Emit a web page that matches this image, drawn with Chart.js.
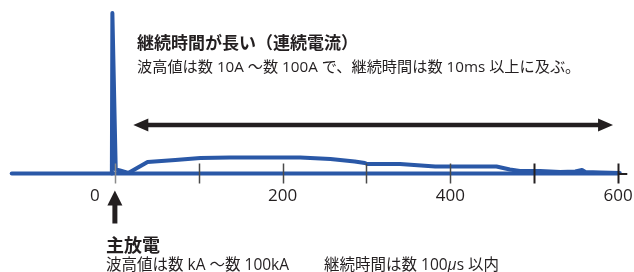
<!DOCTYPE html>
<html>
<head>
<meta charset="utf-8">
<script src="https://cdn.jsdelivr.net/npm/chart.js@4/dist/chart.umd.min.js"></script>
<style>
  html, body { margin: 0; padding: 0; background: #fff; }
  #wrap { width: 634px; height: 272px; position: relative; }
</style>
</head>
<body>
<div id="wrap"><canvas id="chart"></canvas></div>
<script>
// 時間 (μs) と電流 (相対値)
const timeUs = [-3.6, -3, 1, 6, 16, 39, 72, 102, 137, 221, 257, 286, 298, 301, 340, 382, 455, 471, 483, 507, 531, 549, 557, 561, 579, 602];
const current = [0, 160.5, 4, 3, 0.5, 11.5, 13.5, 15.5, 16, 16, 14.5, 12, 10.5, 9.5, 9.5, 7, 7, 4, 2.5, 2.5, 1.5, 2, 3.5, 1.5, 1, 0.5];

const tickValues = [0, 100, 200, 300, 400, 500, 600];
const tickLabels = ['0', '', '200', '', '400', '', '600'];
const darkTicks = [500, 600];
const axisStart = -123;
const axisEnd = 600;

const BLUE = '#2a58a7';
const INK = '#231f20';
const FONT = '"Open Sans", "Noto Sans CJK JP", sans-serif';

const points = timeUs.map((t, i) => ({ x: t, y: current[i] }));

function arrowHead(ctx, x, y, dx, dy, len, half) {
    // dx, dy: 向き (単位ベクトル)
    ctx.beginPath();
    ctx.moveTo(x, y);
    ctx.lineTo(x - dx * len - dy * half, y - dy * len + dx * half);
    ctx.lineTo(x - dx * len + dy * half, y - dy * len - dx * half);
    ctx.closePath();
    ctx.fill();
}

const axisPlugin = {
    id: 'axisPlugin',
    beforeDatasetsDraw(chart) {
        const { ctx, scales: { x, y } } = chart;
        const y0 = y.getPixelForValue(0);
        ctx.save();
        ctx.strokeStyle = BLUE;
        ctx.lineWidth = 4;
        ctx.lineCap = 'round';
        ctx.beginPath();
        ctx.moveTo(x.getPixelForValue(axisStart), y0);
        ctx.lineTo(x.getPixelForValue(axisEnd), y0);
        ctx.stroke();
        ctx.restore();
    },
    afterDatasetsDraw(chart) {
        const { ctx, scales: { x, y } } = chart;
        const y0 = y.getPixelForValue(0);
        ctx.save();

        // 目盛り
        tickValues.forEach((v) => {
            const px = Math.round(x.getPixelForValue(v)) + 0.5;
            const dark = darkTicks.includes(v);
            ctx.strokeStyle = dark ? INK : (v === 0 ? '#8a8a8a' : '#4a4a4a');
            ctx.lineWidth = dark ? 2 : 1.5;
            ctx.beginPath();
            ctx.moveTo(px, y0 - 10);
            ctx.lineTo(px, y0 + 10);
            ctx.stroke();
        });
        // 右端の短い線
        ctx.strokeStyle = INK;
        ctx.lineWidth = 2;
        ctx.beginPath();
        ctx.moveTo(x.getPixelForValue(600), y0 + 0.5);
        ctx.lineTo(x.getPixelForValue(611), y0 + 0.5);
        ctx.stroke();

        // 目盛りラベル
        ctx.fillStyle = INK;
        ctx.font = '17px ' + FONT;
        ctx.textAlign = 'center';
        ctx.textBaseline = 'middle';
        tickLabels.forEach((lab, i) => {
            if (!lab) return;
            let px = x.getPixelForValue(tickValues[i]);
            if (tickValues[i] === 0) px -= 20;
            ctx.fillText(lab, px, y0 + 23);
        });

        // 横向きの両矢印
        const ay = y.getPixelForValue(48.5);
        const ax1 = x.getPixelForValue(22);
        const ax2 = x.getPixelForValue(594);
        ctx.strokeStyle = INK;
        ctx.fillStyle = INK;
        ctx.lineWidth = 4.5;
        ctx.lineCap = 'butt';
        ctx.beginPath();
        ctx.moveTo(ax1 + 10, ay);
        ctx.lineTo(ax2 - 10, ay);
        ctx.stroke();
        arrowHead(ctx, ax1, ay, -1, 0, 15, 6.5);
        arrowHead(ctx, ax2, ay, 1, 0, 15, 6.5);

        // 主放電の矢印
        const ux = x.getPixelForValue(0);
        const utip = y0 + 17;
        ctx.lineWidth = 5;
        ctx.beginPath();
        ctx.moveTo(ux, utip + 10);
        ctx.lineTo(ux, utip + 33);
        ctx.stroke();
        arrowHead(ctx, ux, utip, 0, -1, 15, 7.5);

        // 文字
        ctx.textAlign = 'left';
        ctx.textBaseline = 'middle';
        ctx.fillStyle = INK;
        ctx.font = 'bold 17px "Noto Sans CJK JP", sans-serif';
        ctx.fillText('継続時間が長い（連続電流）', 137, 43);
        ctx.font = '15.2px ' + FONT;
        ctx.fillText('波高値は数 10A ～数 100A で、継続時間は数 10ms 以上に及ぶ。', 137, 68);

        ctx.font = 'bold 18px "Noto Sans CJK JP", sans-serif';
        ctx.fillText('主放電', 106, 245);
        ctx.font = '15.5px ' + FONT;
        ctx.fillText('波高値は数 kA ～数 100kA', 106, 266);
        // μ はイタリック
        let tx = 324;
        const parts = [['継続時間は数 100', ''], ['μ', 'italic '], ['s 以内', '']];
        parts.forEach(([s, style]) => {
            ctx.font = style + '15.5px ' + FONT;
            ctx.fillText(s, tx, 266);
            tx += ctx.measureText(s).width;
        });

        ctx.restore();
    }
};

new Chart(document.getElementById('chart'), {
    type: 'line',
    data: {
        datasets: [{
            data: points,
            borderColor: BLUE,
            borderWidth: 4,
            borderJoinStyle: 'round',
            borderCapStyle: 'round',
            pointRadius: 0,
            tension: 0,
            fill: false
        }]
    },
    options: {
        responsive: true,
        maintainAspectRatio: false,
        animation: false,
        layout: { padding: 0, autoPadding: false },
        plugins: {
            legend: { display: false },
            tooltip: { enabled: false }
        },
        scales: {
            x: { type: 'linear', min: -137, max: 619, display: false },
            y: { min: -98.5, max: 173.5, display: false }
        }
    },
    plugins: [axisPlugin]
});
</script>
</body>
</html>
